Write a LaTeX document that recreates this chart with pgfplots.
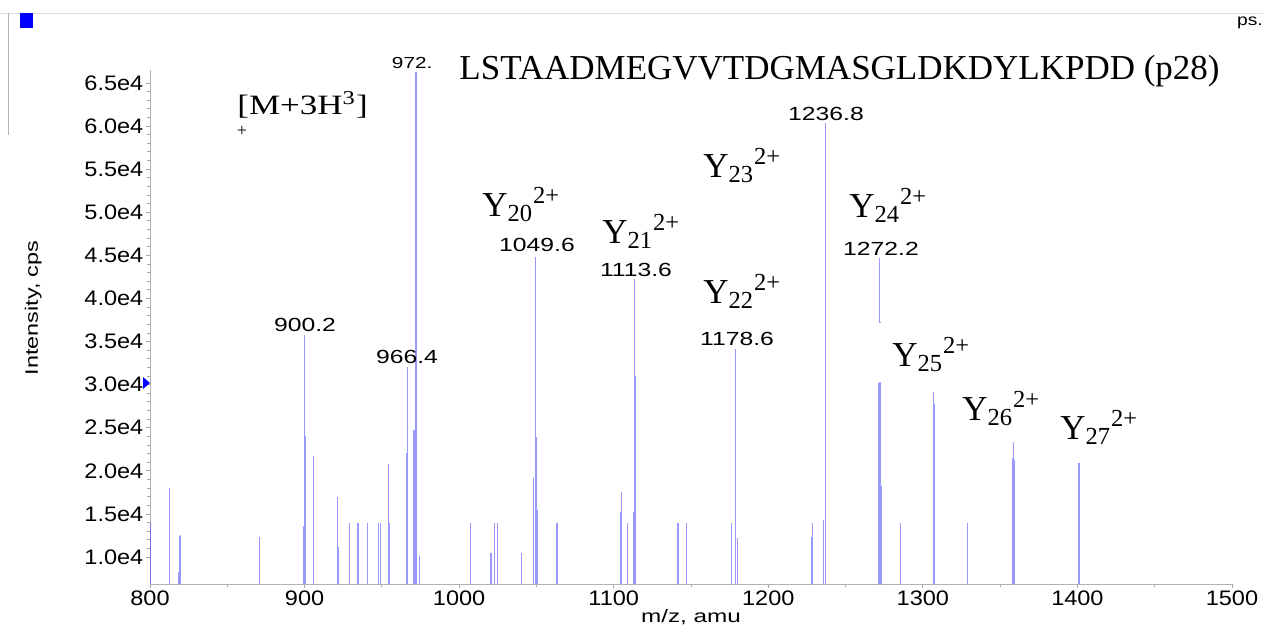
\documentclass[border=0pt]{standalone}
\usepackage{fontspec}
\setmainfont{Liberation Sans}
\newfontfamily\tnr{Liberation Serif}
\usepackage{graphicx}
\usepackage{pgfplots}
\pgfplotsset{compat=1.18}
\newcommand\Ylab[1]{{\tnr\fontsize{17.5}{20}\selectfont Y\textsubscript{#1}\textsuperscript{2+}}}
\newcommand\pk{\fontsize{9.5}{11}\selectfont}
\begin{document}
\begin{tikzpicture}
\path[use as bounding box] (0,0) rectangle (631.5pt,314pt);
\begin{axis}[
  at={(75pt,22pt)}, anchor=south west, scale only axis,
  width=541pt, height=257pt,
  xmin=800, xmax=1500, ymin=6870, ymax=66500,
  axis x line*=bottom, axis y line*=left,
  axis line style={gray!60, line width=0.5pt},
  xtick={800,900,1000,1100,1200,1300,1400,1500},
  xticklabels={800,900,1000,1100,1200,1300,1400,1500},
  ytick={10000,15000,20000,25000,30000,35000,40000,45000,50000,55000,60000,65000},
  yticklabels={1.0e4,1.5e4,2.0e4,2.5e4,3.0e4,3.5e4,4.0e4,4.5e4,5.0e4,5.5e4,6.0e4,6.5e4},
  minor y tick num=4, minor x tick num=1,
  tick align=outside, tick style={gray!70, line width=0.4pt},
  major tick length=2pt, minor tick length=1.5pt,
  yticklabel style={font=\fontsize{10.5}{12}\selectfont, xscale=1.12, inner sep=1pt},
  xticklabel style={font=\fontsize{10.5}{12}\selectfont, xscale=1.12, inner sep=1pt},
  xlabel={\scalebox{1.35}[1]{m/z, amu}},
  xlabel style={font=\fontsize{9}{10}\selectfont, at={(axis description cs:0.5,-0.064)}, anchor=center},
  ylabel={\scalebox{1.3}[1]{Intensity, cps}},
  ylabel style={font=\fontsize{9}{10}\selectfont, at={(axis description cs:-0.108,0.537)}, anchor=center},
  scaled y ticks=false,
]
\addplot[ycomb, color={rgb,255:red,50;green,50;blue,255}, opacity=0.5, line width=0.55pt] table {
x y
800.5 14000
812.9 18000
818.3 8300
818.8 12400
819.8 12600
870.7 12300
870.8 7600
899.2 13600
900.2 35800
900.3 24000
905.5 11200
905.9 21700
921.2 17000
921.9 11200
928.8 14000
934.2 14000
935.1 14000
940.5 14000
948.0 14000
948.9 14000
954.3 20800
954.9 14000
965.8 22100
966.4 32100
970.8 24700
971.6 28800
972.1 66300
974.2 10100
1007.1 14000
1020.6 10500
1023.0 14000
1024.9 14000
1040.2 10500
1048.2 19200
1049.6 44800
1049.9 23900
1050.4 15400
1063.3 14000
1104.5 15200
1105.1 17600
1108.8 14000
1112.6 15200
1113.6 42200
1113.9 31000
1114.3 13300
1141.0 14000
1141.9 14000
1147.1 14000
1176.4 14000
1178.6 34100
1179.0 27800
1179.9 12200
1227.7 12300
1228.4 14000
1235.8 14300
1236.8 60400
1237.2 34400
1271.2 30200
1272.2 44700
1272.3 37300
1272.6 25100
1273.2 18200
1285.7 14000
1306.8 29100
1307.7 27700
1328.8 14000
1358.1 21500
1358.5 23400
1359.0 21200
1401.0 20900
};
\end{axis}
\begin{scope}[x=0.5pt, y=-0.5pt, shift={(0pt,314pt)}]
  % window decorations
  \draw[gray!25, line width=0.4pt] (0,13) -- (1263,13);
  \draw[gray!60, line width=0.5pt] (8,13) -- (8,135);
  \fill[blue] (20,13) rectangle (33,28);
  \node[font=\fontsize{8}{9}\selectfont, xscale=1.2] at (1250,23) {ps.};
  \fill[blue] (143,377) -- (150,383) -- (143,389) -- cycle;
  % gap in the 1272 peak behind label
  \fill[white] (875,323) rectangle (884,382);
  % peak labels
  \node[font=\fontsize{8}{9}\selectfont, xscale=1.3] at (418,63) {972.1};
  \node[anchor=base west, fill=white, inner xsep=14pt, inner ysep=1pt] at (431,80)
     {\tnr\fontsize{17.5}{20}\selectfont LSTAADMEGVVTDGMASGLDKDYLKPDD (p28)};
  \node[font=\pk, xscale=1.3] at (305,325) {900.2};
  \node[font=\pk, xscale=1.3] at (407,357) {966.4};
  \node[font=\pk, xscale=1.3] at (537,245) {1049.6};
  \node[font=\pk, xscale=1.3] at (636,270) {1113.6};
  \node[font=\pk, xscale=1.3] at (737,339) {1178.6};
  \node[font=\pk, xscale=1.3] at (826,114) {1236.8};
  \node[font=\pk, xscale=1.3] at (881,249) {1272.2};
  % ion labels
  \node[anchor=base west, inner sep=0pt] at (482,216) {\Ylab{20}};
  \node[anchor=base west, inner sep=0pt] at (602,243) {\Ylab{21}};
  \node[anchor=base west, inner sep=0pt] at (703,303) {\Ylab{22}};
  \node[anchor=base west, inner sep=0pt] at (703,177) {\Ylab{23}};
  \node[anchor=base west, inner sep=0pt] at (849,217) {\Ylab{24}};
  \node[anchor=base west, inner sep=0pt] at (892,366) {\Ylab{25}};
  \node[anchor=base west, inner sep=0pt] at (962,420) {\Ylab{26}};
  \node[anchor=base west, inner sep=0pt] at (1060,439) {\Ylab{27}};
  \node[anchor=base west, inner sep=0pt] at (237,115)
     {\scalebox{1.25}[1]{\tnr\fontsize{14}{16}\selectfont [M+3H\textsuperscript{3}]}};
  \node[inner sep=0pt] at (242,131) {\tnr\fontsize{9}{10}\selectfont +};
\end{scope}
\end{tikzpicture}
\end{document}
